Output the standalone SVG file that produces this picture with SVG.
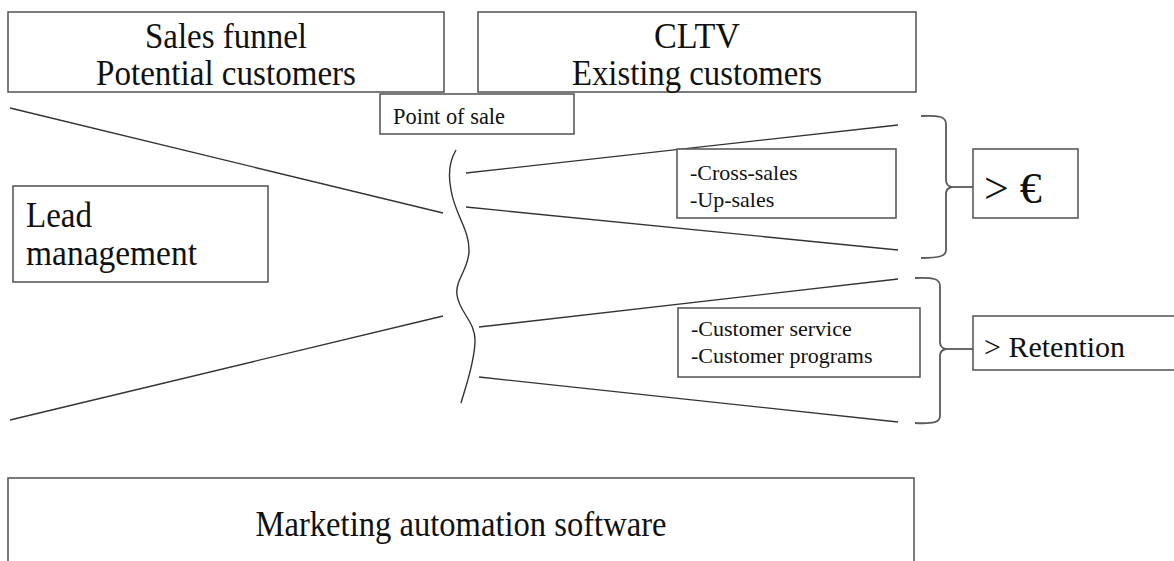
<svg xmlns="http://www.w3.org/2000/svg" width="1174" height="561" viewBox="0 0 1174 561">
<style>
.box{fill:#fff;stroke:#5a5a5a;stroke-width:1.6}
.ln{fill:none;stroke:#333;stroke-width:1.4}
.br{fill:none;stroke:#5a5a5a;stroke-width:1.8}
.t{font-family:'Liberation Serif','Times New Roman',serif;fill:#111}
.big{font-size:36px}
.sm{font-size:22px}
.c{text-anchor:middle}
</style>
<rect width="1174" height="561" fill="#fff"/>
<g id="connectors">
<line class="ln" x1="10" y1="108" x2="443" y2="213"/>
<line class="ln" x1="10" y1="420" x2="443" y2="316"/>
<path class="ln" d="M456,150 C450,160 448,175 451,190 C455,215 470,230 469,252 C468,270 455,280 457,295 C459,312 476,322 475,342 C474,365 466,385 461,403"/>
<line class="ln" x1="466" y1="173" x2="898" y2="125"/>
<line class="ln" x1="466" y1="207" x2="898" y2="250"/>
<line class="ln" x1="479" y1="327" x2="898" y2="279"/>
<line class="ln" x1="479" y1="377" x2="898" y2="422"/>
<path class="br" d="M921,116 C940,115 946,117 946,124 L946,180 Q946,186 952,187 Q946,188 946,194 L946,250 C946,256 940,258 921,258"/>
<line class="br" x1="952" y1="187" x2="973" y2="187"/>
<path class="br" d="M915,278 C934,277 940,279 940,286 L940,342 Q940,348 946,349 Q940,350 940,356 L940,416 C940,422 934,424 915,423"/>
<line class="br" x1="946" y1="349" x2="973" y2="349"/>
</g>
<g id="sales-funnel">
<rect class="box" x="8" y="12" width="436" height="80"/>
<text class="t big c" x="226" y="48" textLength="162" lengthAdjust="spacingAndGlyphs">Sales funnel</text>
<text class="t big c" x="226" y="85" textLength="260" lengthAdjust="spacingAndGlyphs">Potential customers</text>
</g>
<g id="cltv">
<rect class="box" x="478" y="12" width="438" height="80"/>
<text class="t big c" x="697" y="48" textLength="86" lengthAdjust="spacingAndGlyphs">CLTV</text>
<text class="t big c" x="697" y="85" textLength="250" lengthAdjust="spacingAndGlyphs">Existing customers</text>
</g>
<g id="point-of-sale">
<rect class="box" x="380" y="94" width="194" height="40"/>
<text class="t" style="font-size:23px" x="393" y="124" textLength="112" lengthAdjust="spacingAndGlyphs">Point of sale</text>
</g>
<g id="lead-management">
<rect class="box" x="13" y="186" width="255" height="96"/>
<text class="t big" x="26" y="227" textLength="66" lengthAdjust="spacingAndGlyphs">Lead</text>
<text class="t big" x="26" y="265" textLength="171" lengthAdjust="spacingAndGlyphs">management</text>
</g>
<g id="cross-sales">
<rect class="box" x="677" y="149" width="219" height="69"/>
<text class="t sm" x="690" y="180">-Cross-sales</text>
<text class="t sm" x="690" y="207">-Up-sales</text>
</g>
<g id="customer-service">
<rect class="box" x="678" y="308" width="242" height="69"/>
<text class="t sm" x="691" y="336">-Customer service</text>
<text class="t sm" x="691" y="363">-Customer programs</text>
</g>
<g id="more-euro">
<rect class="box" x="973" y="149" width="105" height="69"/>
<text class="t" style="font-size:44px" x="984" y="203">&gt; €</text>
</g>
<g id="more-retention">
<rect class="box" x="973" y="316" width="210" height="54"/>
<text class="t" style="font-size:30px" x="984" y="357">&gt; Retention</text>
</g>
<g id="marketing-automation">
<rect class="box" x="8" y="478" width="906" height="100"/>
<text class="t big c" x="461" y="536" textLength="411" lengthAdjust="spacingAndGlyphs">Marketing automation software</text>
</g>
</svg>
